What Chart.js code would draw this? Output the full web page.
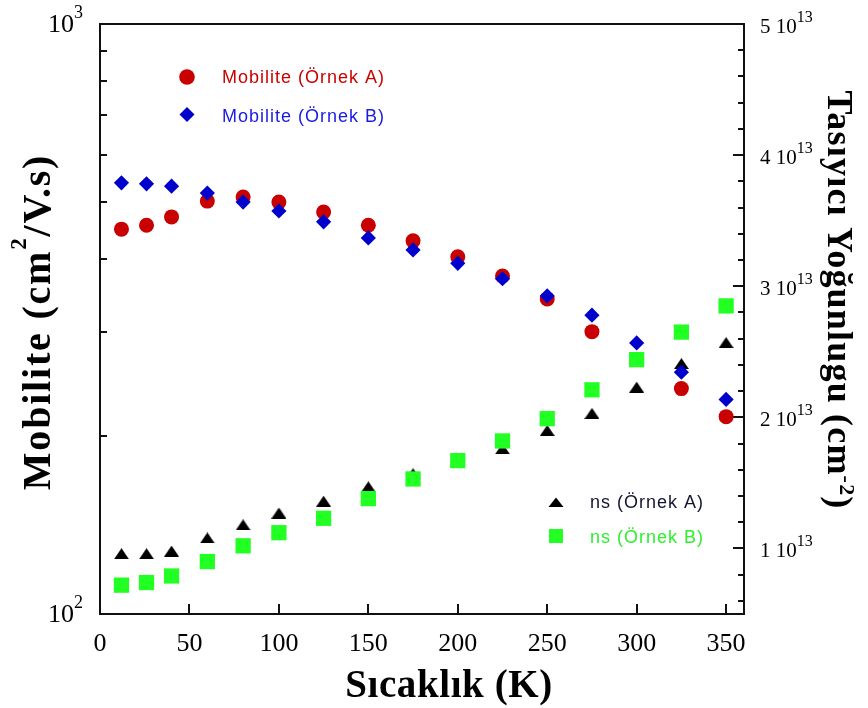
<!DOCTYPE html>
<html>
<head>
<meta charset="utf-8">
<script src="https://cdn.jsdelivr.net/npm/chart.js@4.4.1/dist/chart.umd.min.js"></script>
<style>
  html, body { margin: 0; padding: 0; background: #ffffff; }
  canvas { display: block; }
</style>
</head>
<body>
<canvas id="chart" width="868" height="708"></canvas>
<script>
// Sıcaklık (K)
const temps = [12, 26, 40, 60, 80, 100, 125, 150, 175, 200, 225, 250, 275, 300, 325, 350];
// Mobilite (cm²/V.s)
const mobA = [449, 456, 471, 501, 509, 499, 480, 456, 429, 403, 374, 342, 301, 270, 241, 216];
const mobB = [538, 536, 531, 517, 499, 482, 462, 434, 414, 393, 370, 346, 321, 288, 257, 231];
// Taşıyıcı yoğunluğu, in units of 10^13 cm^-2
const nsA = [0.96, 0.96, 0.98, 1.08, 1.18, 1.27, 1.36, 1.47, 1.57, 1.66, 1.76, 1.90, 2.03, 2.23, 2.41, 2.57];
const nsB = [0.72, 0.74, 0.79, 0.90, 1.02, 1.12, 1.23, 1.38, 1.53, 1.67, 1.82, 1.99, 2.21, 2.44, 2.65, 2.85];
const NS_UNIT = 1e13;

// Axis ticks and their labels
const xTickValues = [0, 50, 100, 150, 200, 250, 300, 350];
const mobTickValues = [100, 200, 300, 400, 500, 600, 700, 800, 900, 1000];
const mobTickLabels = { 100: ['10', '2'], 1000: ['10', '3'] };
const nsTickValues = [0.6, 0.8, 1, 1.2, 1.4, 1.6, 1.8, 2, 2.2, 2.4, 2.6, 2.8, 3, 3.2, 3.4, 3.6, 3.8, 4, 4.2, 4.4, 4.6, 4.8, 5];
const nsTickLabels = { 1: ['1 10', '13'], 2: ['2 10', '13'], 3: ['3 10', '13'], 4: ['4 10', '13'], 5: ['5 10', '13'] };

const COLORS = { mobA: '#c80000', mobB: '#0000cc', nsA: '#000000', nsB: '#22ff22' };
const SERIF = '"Liberation Serif", "Times New Roman", serif';
const SANS = '"Liberation Sans", Arial, sans-serif';

function pairs(xs, ys, unit) {
  return xs.map((x, i) => ({ x: x, y: ys[i] * (unit || 1) }));
}

// Flat triangle marker
function triangleMark(w, h, color) {
  const c = document.createElement('canvas');
  c.width = w; c.height = h;
  const g = c.getContext('2d');
  g.fillStyle = color;
  g.beginPath();
  g.moveTo(w / 2, 0);
  g.lineTo(w, h);
  g.lineTo(0, h);
  g.closePath();
  g.fill();
  return c;
}
const triData = triangleMark(15, 11, COLORS.nsA);

// Text made of runs, each with its own font, spacing and vertical shift
function richText(ctx, parts, x, y, align) {
  let total = 0;
  parts.forEach(p => {
    ctx.font = p.font; ctx.letterSpacing = p.ls || '0px';
    p.w = ctx.measureText(p.t).width; total += p.w;
  });
  let cx = align === 'right' ? x - total : align === 'center' ? x - total / 2 : x;
  ctx.textAlign = 'left';
  ctx.textBaseline = 'alphabetic';
  parts.forEach(p => {
    ctx.font = p.font; ctx.letterSpacing = p.ls || '0px';
    ctx.fillText(p.t, cx, y + (p.dy || 0)); cx += p.w;
  });
  ctx.letterSpacing = '0px';
}

const framePlugin = {
  id: 'frame',
  beforeDatasetsDraw(chart) {
    const { ctx, chartArea: a, scales } = chart;
    const sx = scales.x, yl = scales.yMob, yr = scales.yNs;
    ctx.save();
    ctx.strokeStyle = '#111111';
    ctx.lineWidth = 2;
    ctx.strokeRect(a.left, a.top, a.right - a.left, a.bottom - a.top);

    // inward tick marks
    ctx.beginPath();
    sx.ticks.forEach(t => {
      const px = Math.round(sx.getPixelForValue(t.value));
      ctx.moveTo(px, a.bottom); ctx.lineTo(px, a.bottom - 10);
    });
    yl.ticks.forEach(t => {
      const py = Math.round(yl.getPixelForValue(t.value));
      ctx.moveTo(a.left, py); ctx.lineTo(a.left + 7, py);
    });
    yr.ticks.forEach(t => {
      const py = Math.round(yr.getPixelForValue(t.value));
      const k = t.value / NS_UNIT;
      const major = Math.abs(k - Math.round(k)) < 1e-6;
      ctx.moveTo(a.right, py); ctx.lineTo(a.right - (major ? 11 : 6), py);
    });
    ctx.stroke();

    // left tick labels: 10^n
    ctx.fillStyle = '#000000';
    yl.ticks.forEach(t => {
      const lab = mobTickLabels[t.value];
      if (!lab) return;
      const py = yl.getPixelForValue(t.value);
      richText(ctx, [
        { t: lab[0], font: '26px ' + SERIF },
        { t: lab[1], font: '18px ' + SERIF, dy: -14 }
      ], 83, py + 8, 'right');
    });

    // right tick labels: k 10^13
    yr.ticks.forEach(t => {
      const k = Math.round(t.value / NS_UNIT * 10) / 10;
      const lab = nsTickLabels[k];
      if (!lab) return;
      const py = yr.getPixelForValue(t.value);
      richText(ctx, [
        { t: lab[0], font: '21px ' + SERIF },
        { t: lab[1], font: '16px ' + SERIF, dy: -11 }
      ], 760, py + 8.5, 'left');
    });

    // axis titles
    richText(ctx, [{ t: 'Sıcaklık (K)', font: 'bold 39px ' + SERIF, ls: '0.6px' }], 449, 697, 'center');

    ctx.save();
    ctx.translate(50, 322);
    ctx.rotate(-Math.PI / 2);
    richText(ctx, [
      { t: 'Mobilite (cm', font: 'bold 40px ' + SERIF, ls: '1.8px' },
      { t: '2', font: 'bold 23px ' + SERIF, dy: -24, ls: '1.8px' },
      { t: '/V.s)', font: 'bold 40px ' + SERIF, ls: '1.8px' }
    ], 0, 0, 'center');
    ctx.restore();

    ctx.save();
    ctx.translate(828, 300);
    ctx.rotate(Math.PI / 2);
    richText(ctx, [
      { t: 'Tasıyıcı Yoğunlugu (cm', font: 'bold 36px ' + SERIF, ls: '1.2px' },
      { t: '-2', font: 'bold 22px ' + SERIF, dy: -12, ls: '1.2px' },
      { t: ')', font: 'bold 36px ' + SERIF, ls: '1.2px' }
    ], 0, 0, 'center');
    ctx.restore();

    ctx.restore();
  },
  afterDatasetsDraw(chart) {
    const ctx = chart.ctx;
    ctx.save();
    // legend markers
    ctx.fillStyle = COLORS.mobA; ctx.beginPath(); ctx.arc(187, 77, 7.8, 0, Math.PI * 2); ctx.fill();
    ctx.fillStyle = COLORS.mobB; ctx.beginPath();
    ctx.moveTo(187, 107); ctx.lineTo(194.5, 114.5); ctx.lineTo(187, 122); ctx.lineTo(179.5, 114.5); ctx.closePath(); ctx.fill();
    ctx.fillStyle = COLORS.nsA; ctx.beginPath();
    ctx.moveTo(556, 497.5); ctx.lineTo(563.5, 507); ctx.lineTo(548.5, 507); ctx.closePath(); ctx.fill();
    ctx.fillStyle = COLORS.nsB; ctx.fillRect(549, 529, 14, 14);

    // legend texts
    ctx.font = '18px ' + SANS;
    ctx.letterSpacing = '1px';
    ctx.textAlign = 'left';
    ctx.textBaseline = 'alphabetic';
    ctx.fillStyle = '#cc0000'; ctx.fillText('Mobilite (Örnek A)', 222, 83);
    ctx.fillStyle = '#1a1ae6'; ctx.fillText('Mobilite (Örnek B)', 222, 122);
    ctx.fillStyle = '#141432'; ctx.fillText('ns (Örnek A)', 590, 508);
    ctx.fillStyle = '#2ef02e'; ctx.fillText('ns (Örnek B)', 590, 543);
    ctx.restore();
  }
};

new Chart(document.getElementById('chart'), {
  type: 'scatter',
  data: {
    datasets: [
      {
        label: 'Mobilite (Örnek A)', yAxisID: 'yMob', data: pairs(temps, mobA),
        pointStyle: 'circle', pointRadius: 7.5, backgroundColor: COLORS.mobA,
        borderColor: COLORS.mobA, borderWidth: 0, order: 4
      },
      {
        label: 'ns (Örnek A)', yAxisID: 'yNs', data: pairs(temps, nsA, NS_UNIT),
        pointStyle: triData, pointRadius: 7.5, backgroundColor: COLORS.nsA,
        borderColor: COLORS.nsA, borderWidth: 0, order: 3
      },
      {
        label: 'ns (Örnek B)', yAxisID: 'yNs', data: pairs(temps, nsB, NS_UNIT),
        pointStyle: 'rect', pointRadius: 10.8, backgroundColor: COLORS.nsB,
        borderColor: COLORS.nsB, borderWidth: 0, order: 2
      },
      {
        label: 'Mobilite (Örnek B)', yAxisID: 'yMob', data: pairs(temps, mobB),
        pointStyle: 'rectRot', pointRadius: 7.6, backgroundColor: COLORS.mobB,
        borderColor: COLORS.mobB, borderWidth: 0, order: 1
      }
    ]
  },
  options: {
    responsive: false,
    animation: false,
    devicePixelRatio: 1,
    events: [],
    layout: { padding: { top: 24, left: 0, right: 0, bottom: 0 } },
    plugins: { legend: { display: false }, tooltip: { enabled: false } },
    scales: {
      x: {
        type: 'linear', position: 'bottom', min: 0, max: 360,
        grid: { display: false, drawTicks: false },
        border: { display: false },
        ticks: { color: '#000000', font: { family: SERIF, size: 26 }, padding: 15, maxRotation: 0, autoSkip: false },
        afterBuildTicks: s => { s.ticks = xTickValues.map(v => ({ value: v })); },
        afterFit: s => { s.height = 94; }
      },
      yMob: {
        type: 'logarithmic', position: 'left', min: 100, max: 1000,
        grid: { display: false, drawTicks: false },
        border: { display: false },
        ticks: { display: false },
        afterBuildTicks: s => { s.ticks = mobTickValues.map(v => ({ value: v })); },
        afterFit: s => { s.width = 100; }
      },
      yNs: {
        type: 'linear', position: 'right', min: 0.5 * NS_UNIT, max: 5 * NS_UNIT,
        grid: { display: false, drawTicks: false },
        border: { display: false },
        ticks: { display: false },
        afterBuildTicks: s => { s.ticks = nsTickValues.map(v => ({ value: v * NS_UNIT })); },
        afterFit: s => { s.width = 124; }
      }
    }
  },
  plugins: [framePlugin]
});
</script>
</body>
</html>
